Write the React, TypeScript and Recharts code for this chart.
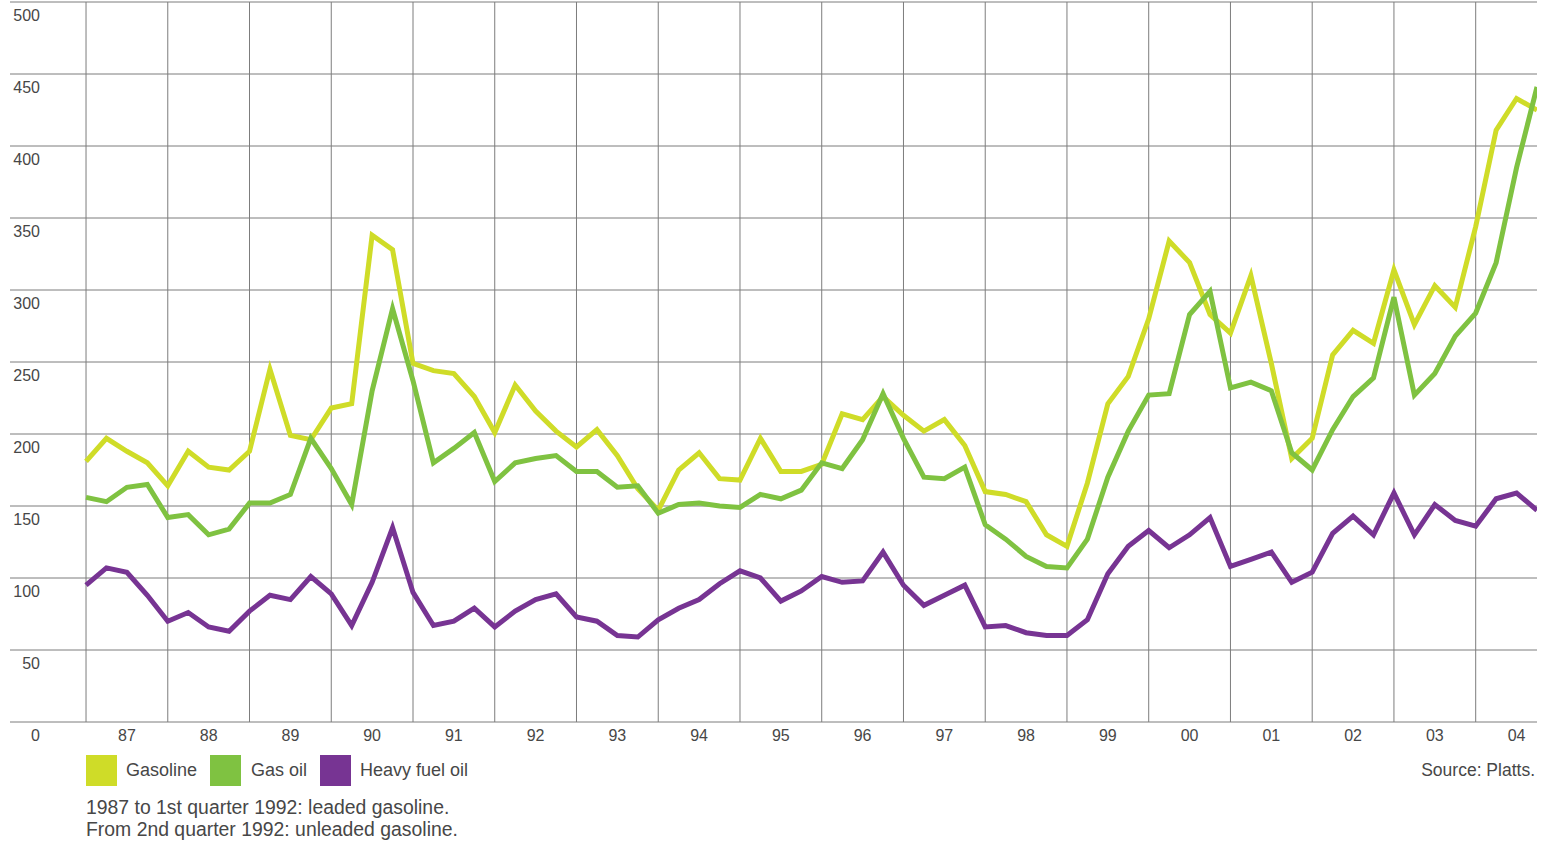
import React from "react";
import {
  LineChart,
  Line,
  XAxis,
  YAxis,
  CartesianGrid,
} from "recharts";

// quarterly prices, 1st quarter 1987 .. 4th quarter 2004
const years = [
  "87", "88", "89", "90", "91", "92", "93", "94", "95",
  "96", "97", "98", "99", "00", "01", "02", "03", "04",
];

const gasoline = [
  181, 197, 188, 180, 164, 188, 177, 175,
  188, 245, 199, 196, 218, 221, 338, 328,
  249, 244, 242, 226, 201, 234, 216, 202,
  191, 203, 185, 162, 147, 175, 187, 169,
  168, 197, 174, 174, 179, 214, 210, 226,
  213, 202, 210, 192, 160, 158, 153, 130,
  122, 166, 221, 240, 280, 334, 319, 283,
  270, 310, 249, 183, 197, 255, 272, 263,
  314, 276, 303, 288, 344, 411, 433, 425,
];

const gasOil = [
  156, 153, 163, 165, 142, 144, 130, 134,
  152, 152, 158, 197, 176, 151, 230, 287,
  237, 180, 190, 201, 167, 180, 183, 185,
  174, 174, 163, 164, 145, 151, 152, 150,
  149, 158, 155, 161, 180, 176, 196, 228,
  197, 170, 169, 177, 137, 127, 115, 108,
  107, 127, 170, 202, 227, 228, 283, 299,
  232, 236, 230, 187, 175, 203, 226, 239,
  295, 227, 242, 268, 284, 319, 385, 441,
];

const heavyFuelOil = [
  95, 107, 104, 88, 70, 76, 66, 63,
  77, 88, 85, 101, 89, 67, 97, 135,
  90, 67, 70, 79, 66, 77, 85, 89,
  73, 70, 60, 59, 71, 79, 85, 96,
  105, 100, 84, 91, 101, 97, 98, 118,
  95, 81, 88, 95, 66, 67, 62, 60,
  60, 71, 103, 122, 133, 121, 130, 142,
  108, 113, 118, 97, 104, 131, 143, 130,
  159, 130, 151, 140, 136, 155, 159, 147,
];

const yTicks = [0, 50, 100, 150, 200, 250, 300, 350, 400, 450, 500];

const series = [
  { key: "gasoline", name: "Gasoline", color: "#cfdc28" },
  { key: "gasOil", name: "Gas oil", color: "#7fc241" },
  { key: "heavyFuelOil", name: "Heavy fuel oil", color: "#773493" },
];

const notes = [
  "1987 to 1st quarter 1992: leaded gasoline.",
  "From 2nd quarter 1992: unleaded gasoline.",
];

const data = gasoline.map((v, i) => ({
  q: i,
  gasoline: v,
  gasOil: gasOil[i],
  heavyFuelOil: heavyFuelOil[i],
}));

const QUARTERS = 4;
const yearStarts = years.map((_, k) => k * QUARTERS);
const yearMids = years.map((_, k) => k * QUARTERS + QUARTERS / 2);
// the horizontal grid runs on to the left, under the value labels
const X_MIN = -3.72;
const X_MAX = data.length - 1;

const TEXT = "#474747";
const GRID = "#7d7d7d";
const FONT = '"Liberation Sans", Arial, sans-serif';

const YTick = (props: any) => {
  const { y, payload } = props;
  return (
    <text x={40} y={y + 19} textAnchor="end" fontSize={16} fill={TEXT}>
      {payload.value}
    </text>
  );
};

const legendPos = [
  { box: 86, text: 126 },
  { box: 210, text: 251 },
  { box: 320, text: 360 },
];

export default function App() {
  return (
    <div
      style={{
        position: "absolute",
        left: 0,
        top: 0,
        width: 1551,
        height: 842,
        background: "#fff",
        fontFamily: FONT,
        color: TEXT,
      }}
    >
      <LineChart
        width={1551}
        height={760}
        data={data}
        margin={{ top: 2, right: 14, bottom: 0, left: 0 }}
        style={{ fontFamily: FONT }}
      >
        <CartesianGrid
          xAxisId="grid"
          stroke={GRID}
          strokeWidth={1}
          syncWithTicks
        />
        <XAxis
          xAxisId="years"
          dataKey="q"
          type="number"
          domain={[X_MIN, X_MAX]}
          ticks={yearMids}
          interval={0}
          allowDataOverflow
          axisLine={false}
          tickLine={false}
          height={38}
          tick={{ fontSize: 16, fill: TEXT }}
          tickFormatter={(v: number) => years[Math.floor(v / QUARTERS)]}
        />
        <XAxis
          xAxisId="grid"
          dataKey="q"
          type="number"
          domain={[X_MIN, X_MAX]}
          ticks={yearStarts}
          interval={0}
          allowDataOverflow
          hide
          height={0}
        />
        <YAxis
          type="number"
          domain={[0, 500]}
          ticks={yTicks}
          interval={0}
          width={10}
          axisLine={false}
          tickLine={false}
          tick={<YTick />}
        />
        {series.map((s) => (
          <Line
            key={s.key}
            xAxisId="grid"
            type="linear"
            dataKey={s.key}
            name={s.name}
            stroke={s.color}
            strokeWidth={5}
            strokeLinejoin="miter"
            dot={false}
            activeDot={false}
            isAnimationActive={false}
          />
        ))}
      </LineChart>

      {series.map((s, i) => (
        <React.Fragment key={s.key}>
          <div
            style={{
              position: "absolute",
              left: legendPos[i].box,
              top: 755,
              width: 31,
              height: 31,
              background: s.color,
            }}
          />
          <div
            style={{
              position: "absolute",
              left: legendPos[i].text,
              top: 759,
              fontSize: 18,
              lineHeight: "22px",
              whiteSpace: "nowrap",
            }}
          >
            {s.name}
          </div>
        </React.Fragment>
      ))}

      <div
        style={{
          position: "absolute",
          right: 16,
          top: 759,
          fontSize: 17.5,
          lineHeight: "22px",
          whiteSpace: "nowrap",
        }}
      >
        Source: Platts.
      </div>

      <div
        style={{
          position: "absolute",
          left: 86,
          top: 796,
          fontSize: 19.4,
          lineHeight: "22px",
          whiteSpace: "nowrap",
        }}
      >
        {notes.map((n) => (
          <div key={n}>{n}</div>
        ))}
      </div>
    </div>
  );
}
